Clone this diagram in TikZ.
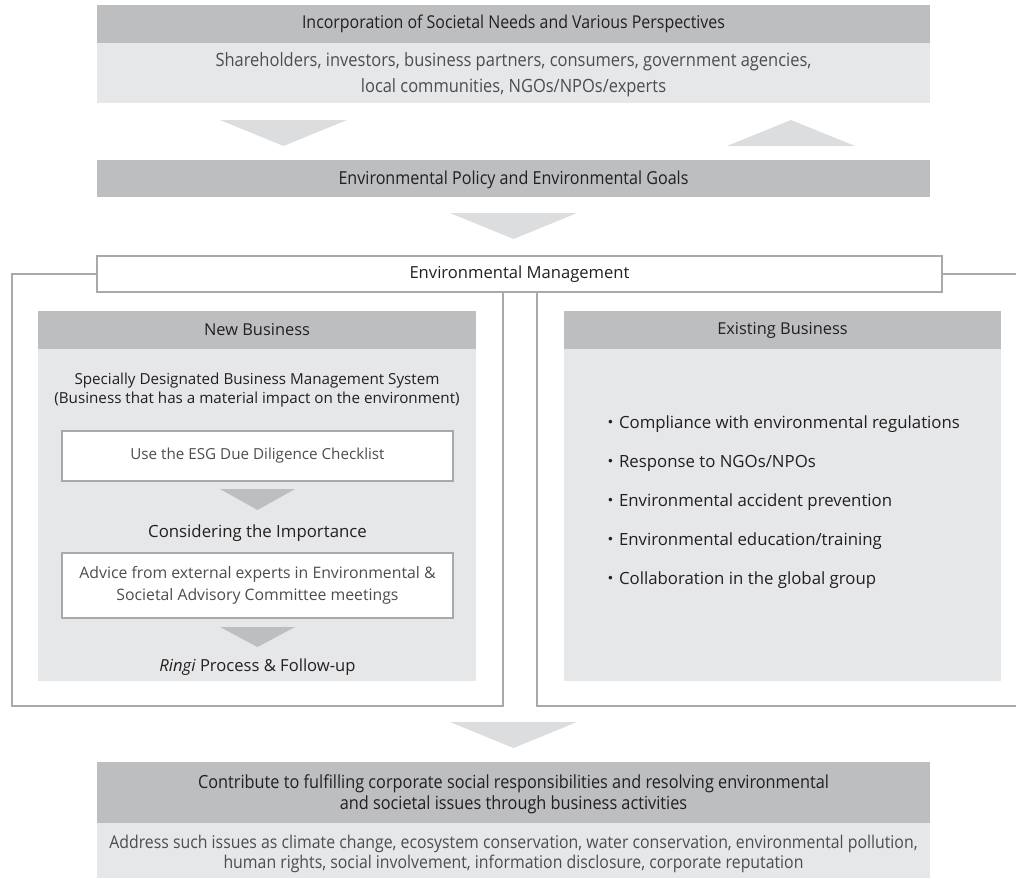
\documentclass[tikz,border=0pt]{standalone}
\usepackage{fontspec}
\setmainfont{Open Sans}
\newfontfamily\cond[FakeStretch=0.9]{Open Sans}
\newfontfamily\cjk{Noto Sans CJK JP}
\definecolor{hdr}{HTML}{BCBEC0}
\definecolor{lite}{HTML}{E6E7E8}
\definecolor{arw}{HTML}{DCDDDE}
\definecolor{arwd}{HTML}{BCBEC0}
\definecolor{frm}{HTML}{A7A9AC}
\definecolor{txt}{HTML}{231F20}
\definecolor{txtl}{HTML}{4D4D4F}
\newcommand{\fs}[2]{\fontsize{#1}{#2}\selectfont}
\newcommand{\bl}{{\cjk ・}}
\tikzset{
  hdrbox/.style={fill=hdr, inner sep=0pt, text=txt, align=center},
  litebox/.style={fill=lite, inner sep=0pt, text=txtl, align=center},
  whitebox/.style={fill=white, draw=frm, line width=1.2pt, inner sep=0pt, align=center},
  frame/.style={draw=frm, line width=1.3pt},
  lbl/.style={inner sep=0pt, text=txt, align=center},
  lbll/.style={inner sep=0pt, text=txtl, align=center},
  bul/.style={inner sep=0pt, text=txt, anchor=west, font=\fs{16.8}{20}},
}
\begin{document}
\begin{tikzpicture}[x=1pt,y=-1pt]
\useasboundingbox (0,0) rectangle (1016,878);
% top block
\node[hdrbox, minimum width=833pt, minimum height=38pt] (top) at (513.5,24) {};
\node[lbl, font=\cond\fs{17.7}{26}] (topt) at (top.center) {Incorporation of Societal Needs and Various Perspectives};
\node[litebox, minimum width=833pt, minimum height=60pt] (topb) at (513.5,73) {};
\node[lbll, font=\cond\fs{18.3}{26}] (topbt) at (513.5,75) {Shareholders, investors, business partners, consumers, government agencies,\\ local communities, NGOs/NPOs/experts};
% arrows between top and policy
\fill[arw] (220,120) -- (347,120) -- (283.5,146) -- cycle;
\fill[arw] (727,146) -- (855,146) -- (791,120) -- cycle;
% policy
\node[hdrbox, minimum width=833pt, minimum height=37pt] (pol) at (513.5,178.5) {};
\node[lbl, font=\cond\fs{17.9}{26}] (polt) at (513.5,179.5) {Environmental Policy and Environmental Goals};
\fill[arw] (450,213) -- (577,213) -- (513.5,239) -- cycle;
% frames
\coordinate (lfBL) at (12,706);
\coordinate (lfBR) at (503,706);
\coordinate (rfBL) at (537,706);
\coordinate (rfR) at (1018,706);
\node[whitebox, minimum width=845pt, minimum height=36pt] (em0) at (519.5,274) {};
\draw[frame] (em0.west) -| (lfBL) -- (lfBR) -- (lfBR |- em0.south);
\draw[frame] (em0.east) -- (em0.east -| rfR);
\draw[frame] (rfBL |- em0.south) -- (rfBL) -- (rfR);
\node[whitebox, minimum width=845pt, minimum height=36pt, text=txt, font=\fs{16.6}{20}] (em) at (519.5,274) {Environmental Management};
% new business
\node[litebox, minimum width=438pt, minimum height=332pt] (nbb) at (257,515) {};
\node[hdrbox, minimum width=438pt, minimum height=38pt, font=\fs{16.4}{20}] (nb) at (257,330) {New Business};
\node[lbl, font=\fs{15.2}{19}] (sd) at (257,390) {Specially Designated Business Management System\\(Business that has a material impact on the environment)};
\node[whitebox, minimum width=391pt, minimum height=50pt, text=txtl, font=\fs{15.2}{20}] (esg) at (257.5,456) {Use the ESG Due Diligence Checklist};
\fill[arwd] (220,489) -- (295,489) -- (257.5,510) -- cycle;
\node[lbl, font=\fs{16.8}{20}] (ci) at (257.5,533) {Considering the Importance};
\node[whitebox, minimum width=391pt, minimum height=65pt, text=txtl, font=\fs{15.8}{22}] (adv) at (257.5,585.5) {Advice from external experts in Environmental \&\\ Societal Advisory Committee meetings};
\fill[arwd] (220,627) -- (295,627) -- (257.5,647) -- cycle;
\node[lbl, font=\fs{16.6}{20}] (rp) at (257.5,667) {\textit{Ringi} Process \& Follow-up};
% existing business
\node[litebox, minimum width=437pt, minimum height=332pt] (exb) at (782.5,515) {};
\node[hdrbox, minimum width=437pt, minimum height=38pt, font=\fs{16.4}{20}] (ex) at (782.5,330) {Existing Business};
\node[bul] (b1) at (602,424) {\bl Compliance with environmental regulations};
\node[bul] (b2) at (602,463) {\bl Response to NGOs/NPOs};
\node[bul] (b3) at (602,502) {\bl Environmental accident prevention};
\node[bul] (b4) at (602,541) {\bl Environmental education/training};
\node[bul] (b5) at (602,580) {\bl Collaboration in the global group};
% bottom
\fill[arw] (450,722) -- (577,722) -- (513.5,748) -- cycle;
\node[hdrbox, minimum width=833pt, minimum height=61pt] (res) at (513.5,792.5) {};
\node[lbl, font=\cond\fs{18.1}{21}] (rest) at (513.5,794.5) {Contribute to fulfilling corporate social responsibilities and resolving environmental\\ and societal issues through business activities};
\node[litebox, minimum width=833pt, minimum height=55pt] (resb) at (513.5,850.5) {};
\node[lbll, font=\cond\fs{17.6}{20}] (resbt) at (513.5,853.5) {Address such issues as climate change, ecosystem conservation, water conservation, environmental pollution,\\ human rights, social involvement, information disclosure, corporate reputation};
\end{tikzpicture}
\end{document}
